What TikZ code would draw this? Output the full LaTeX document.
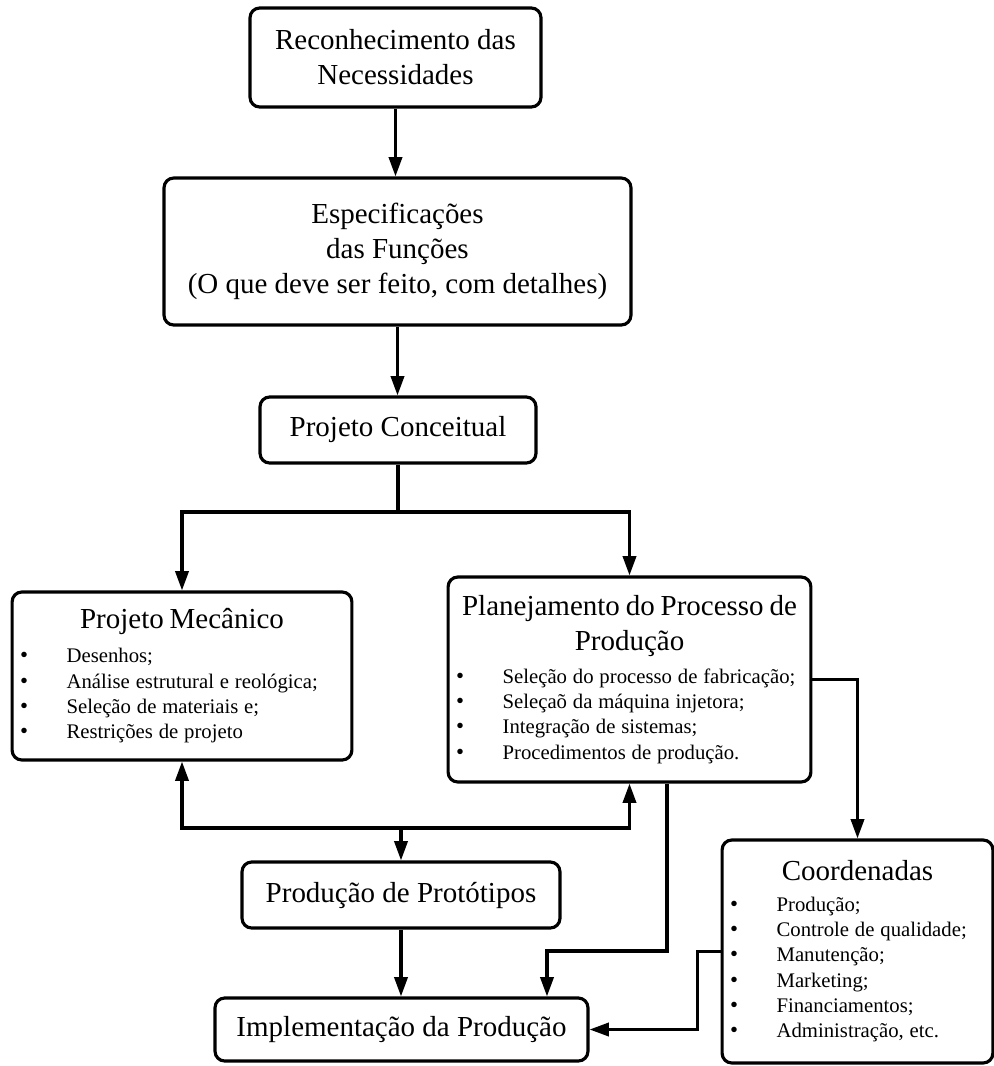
\documentclass[tikz,border=0pt]{standalone}
\usepackage{fontspec}
\setmainfont{Liberation Serif}
\usepackage{tikz}
\usetikzlibrary{arrows.meta}
\newcommand{\ttl}{\fontsize{16.5}{20}\selectfont}
\newcommand{\itm}{\fontsize{11.8}{14.4}\selectfont}
\newcommand{\blt}{\makebox[26.5pt][l]{\fontsize{13}{14.4}\selectfont\textbullet}}
\tikzset{>={Triangle[length=11pt,width=7.5pt]}}
\tikzset{caixa/.style={draw,line width=1.8pt,rounded corners=5.5pt,align=center,font=\ttl},
  lista/.style={draw,line width=1.8pt,rounded corners=5.5pt,inner xsep=4.5pt,inner ysep=0pt}}

\begin{document}
\begin{tikzpicture}[x=0.02cm,y=-0.02cm,line width=1.8pt]
      \useasboundingbox (0,0) rectangle (994,1066);
      \node[caixa,minimum width=5.82cm,minimum height=1.98cm] (rec) at (395.5,57.5) {Reconhecimento das\\Necessidades};
      \node[caixa,minimum width=9.34cm,minimum height=2.94cm] (esp) at (397.5,251.5) {Especificações\\das Funções\\(O que deve ser feito, com detalhes)};
      \node[caixa,minimum width=5.52cm,minimum height=1.32cm] (conc) at (398,430) {Projeto Conceitual};
      \node[lista,minimum height=3.36cm,text width=6.48cm] (mec) at (182,676) {{\ttl\centering Projeto Mecânico\par}\vspace{5pt}
        {\itm\raggedright\blt Desenhos;\\\blt Análise estrutural e reológica;\\\blt Seleção de materiais e;\\\blt Restrições de projeto\par}};
      \node[lista,minimum height=4.1cm,text width=6.94cm] (plan) at (629.5,679.5) {{\ttl\centering Planejamento do Processo de\\Produção\par}\vspace{4pt}
        {\itm\raggedright\blt Seleção do processo de fabricação;\\\blt Seleçaõ da máquina injetora;\\\blt Integração de sistemas;\\\blt Procedimentos de produção.\par}};
      \node[caixa,minimum width=6.36cm,minimum height=1.32cm] (prot) at (401,895) {Produção de Protótipos};
      \node[caixa,minimum width=7.46cm,minimum height=1.26cm] (impl) at (401.5,1029.5) {Implementação da Produção};
      \node[lista,minimum height=4.46cm,text width=5.1cm] (coord) at (857.5,951.5) {{\ttl\centering Coordenadas\par}\vspace{3pt}
        {\itm\raggedright\blt Produção;\\\blt Controle de qualidade;\\\blt Manutenção;\\\blt Marketing;\\\blt Financiamentos;\\\blt Administração, etc.\par}};
      \coordinate (div) at (398,512);
      \coordinate (ret) at (401,828);
      \coordinate (desvio) at (547,951);
      \draw[->] (rec.south) -- (rec.south |- esp.north);
      \draw[->] (esp.south) -- (esp.south |- conc.north);
      \draw (conc.south) -- (div);
      \draw[->] (div) -| (mec.north);
      \draw[->] (div) -| (plan.north);
      \draw[->] (ret) -| (mec.south);
      \draw[->] (ret) -| (plan.south);
      \draw[->] (ret) -- (prot.north);
      \draw[->] (prot.south) -- (prot.south |- impl.north);
      \draw[->] ([xshift=0.75cm]plan.south) |- (desvio) -- (desvio |- impl.north);
      \draw[->] (plan.east) -| (coord.north);
      \draw[->] (coord.west) -- ++(-23,0) |- (impl.east);
    \end{tikzpicture}
\end{document}
